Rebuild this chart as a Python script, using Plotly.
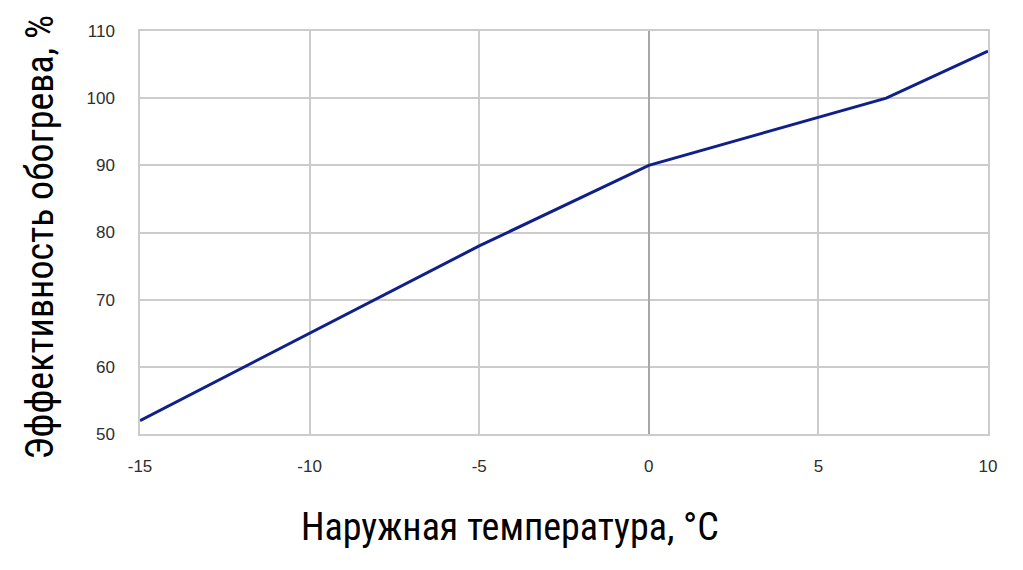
import plotly.graph_objects as go

temperature = [-15, -10, -5, 0, 7, 10]
efficiency = [52, 65, 78, 90, 100, 107]

x_ticks = [-15, -10, -5, 0, 5, 10]
y_ticks = [50, 60, 70, 80, 90, 100, 110]

x_title = "Наружная температура, °C"
y_title = "Эффективность обогрева, %"

fig = go.Figure()
fig.add_trace(go.Scatter(
    x=temperature, y=efficiency, mode="lines",
    line=dict(color="#10208a", width=3),
    showlegend=False, hoverinfo="skip",
))

title_font = dict(family="Roboto Condensed, Liberation Sans Narrow, Roboto", size=38,
                  color="#000000")
tick_font = dict(family="Liberation Sans, Arial", size=17, color="#2e2e2e")

fig.update_layout(
    width=1023, height=570,
    margin=dict(l=132, r=43, t=23, b=144),
    paper_bgcolor="white", plot_bgcolor="white",
    xaxis=dict(
        range=[-15, 10], tickvals=x_ticks, ticktext=[str(v) for v in x_ticks],
        showgrid=True, gridcolor="#cccccc", gridwidth=1.5,
        zeroline=True, zerolinecolor="#a8a8a8", zerolinewidth=1.5,
        showline=True, linecolor="#cccccc", linewidth=1.5, mirror=True,
        ticks="", tickfont=tick_font, ticklabelstandoff=16,
        fixedrange=True,
    ),
    yaxis=dict(
        range=[50, 110], tickvals=y_ticks, ticktext=[str(v) for v in y_ticks],
        showgrid=True, gridcolor="#cccccc", gridwidth=1.5,
        zeroline=False,
        showline=True, linecolor="#cccccc", linewidth=1.5, mirror=True,
        ticks="", tickfont=tick_font, ticklabelstandoff=20,
        fixedrange=True,
    ),
    annotations=[
        dict(text=x_title, xref="paper", yref="paper", x=0.436, y=-0.231,
             xanchor="center", yanchor="middle", showarrow=False, font=title_font),
        dict(text=y_title, xref="paper", yref="paper", x=-0.118, y=0.489,
             xanchor="center", yanchor="middle", showarrow=False, font=title_font,
             textangle=-90),
    ],
)

fig.write_html("out.html")
